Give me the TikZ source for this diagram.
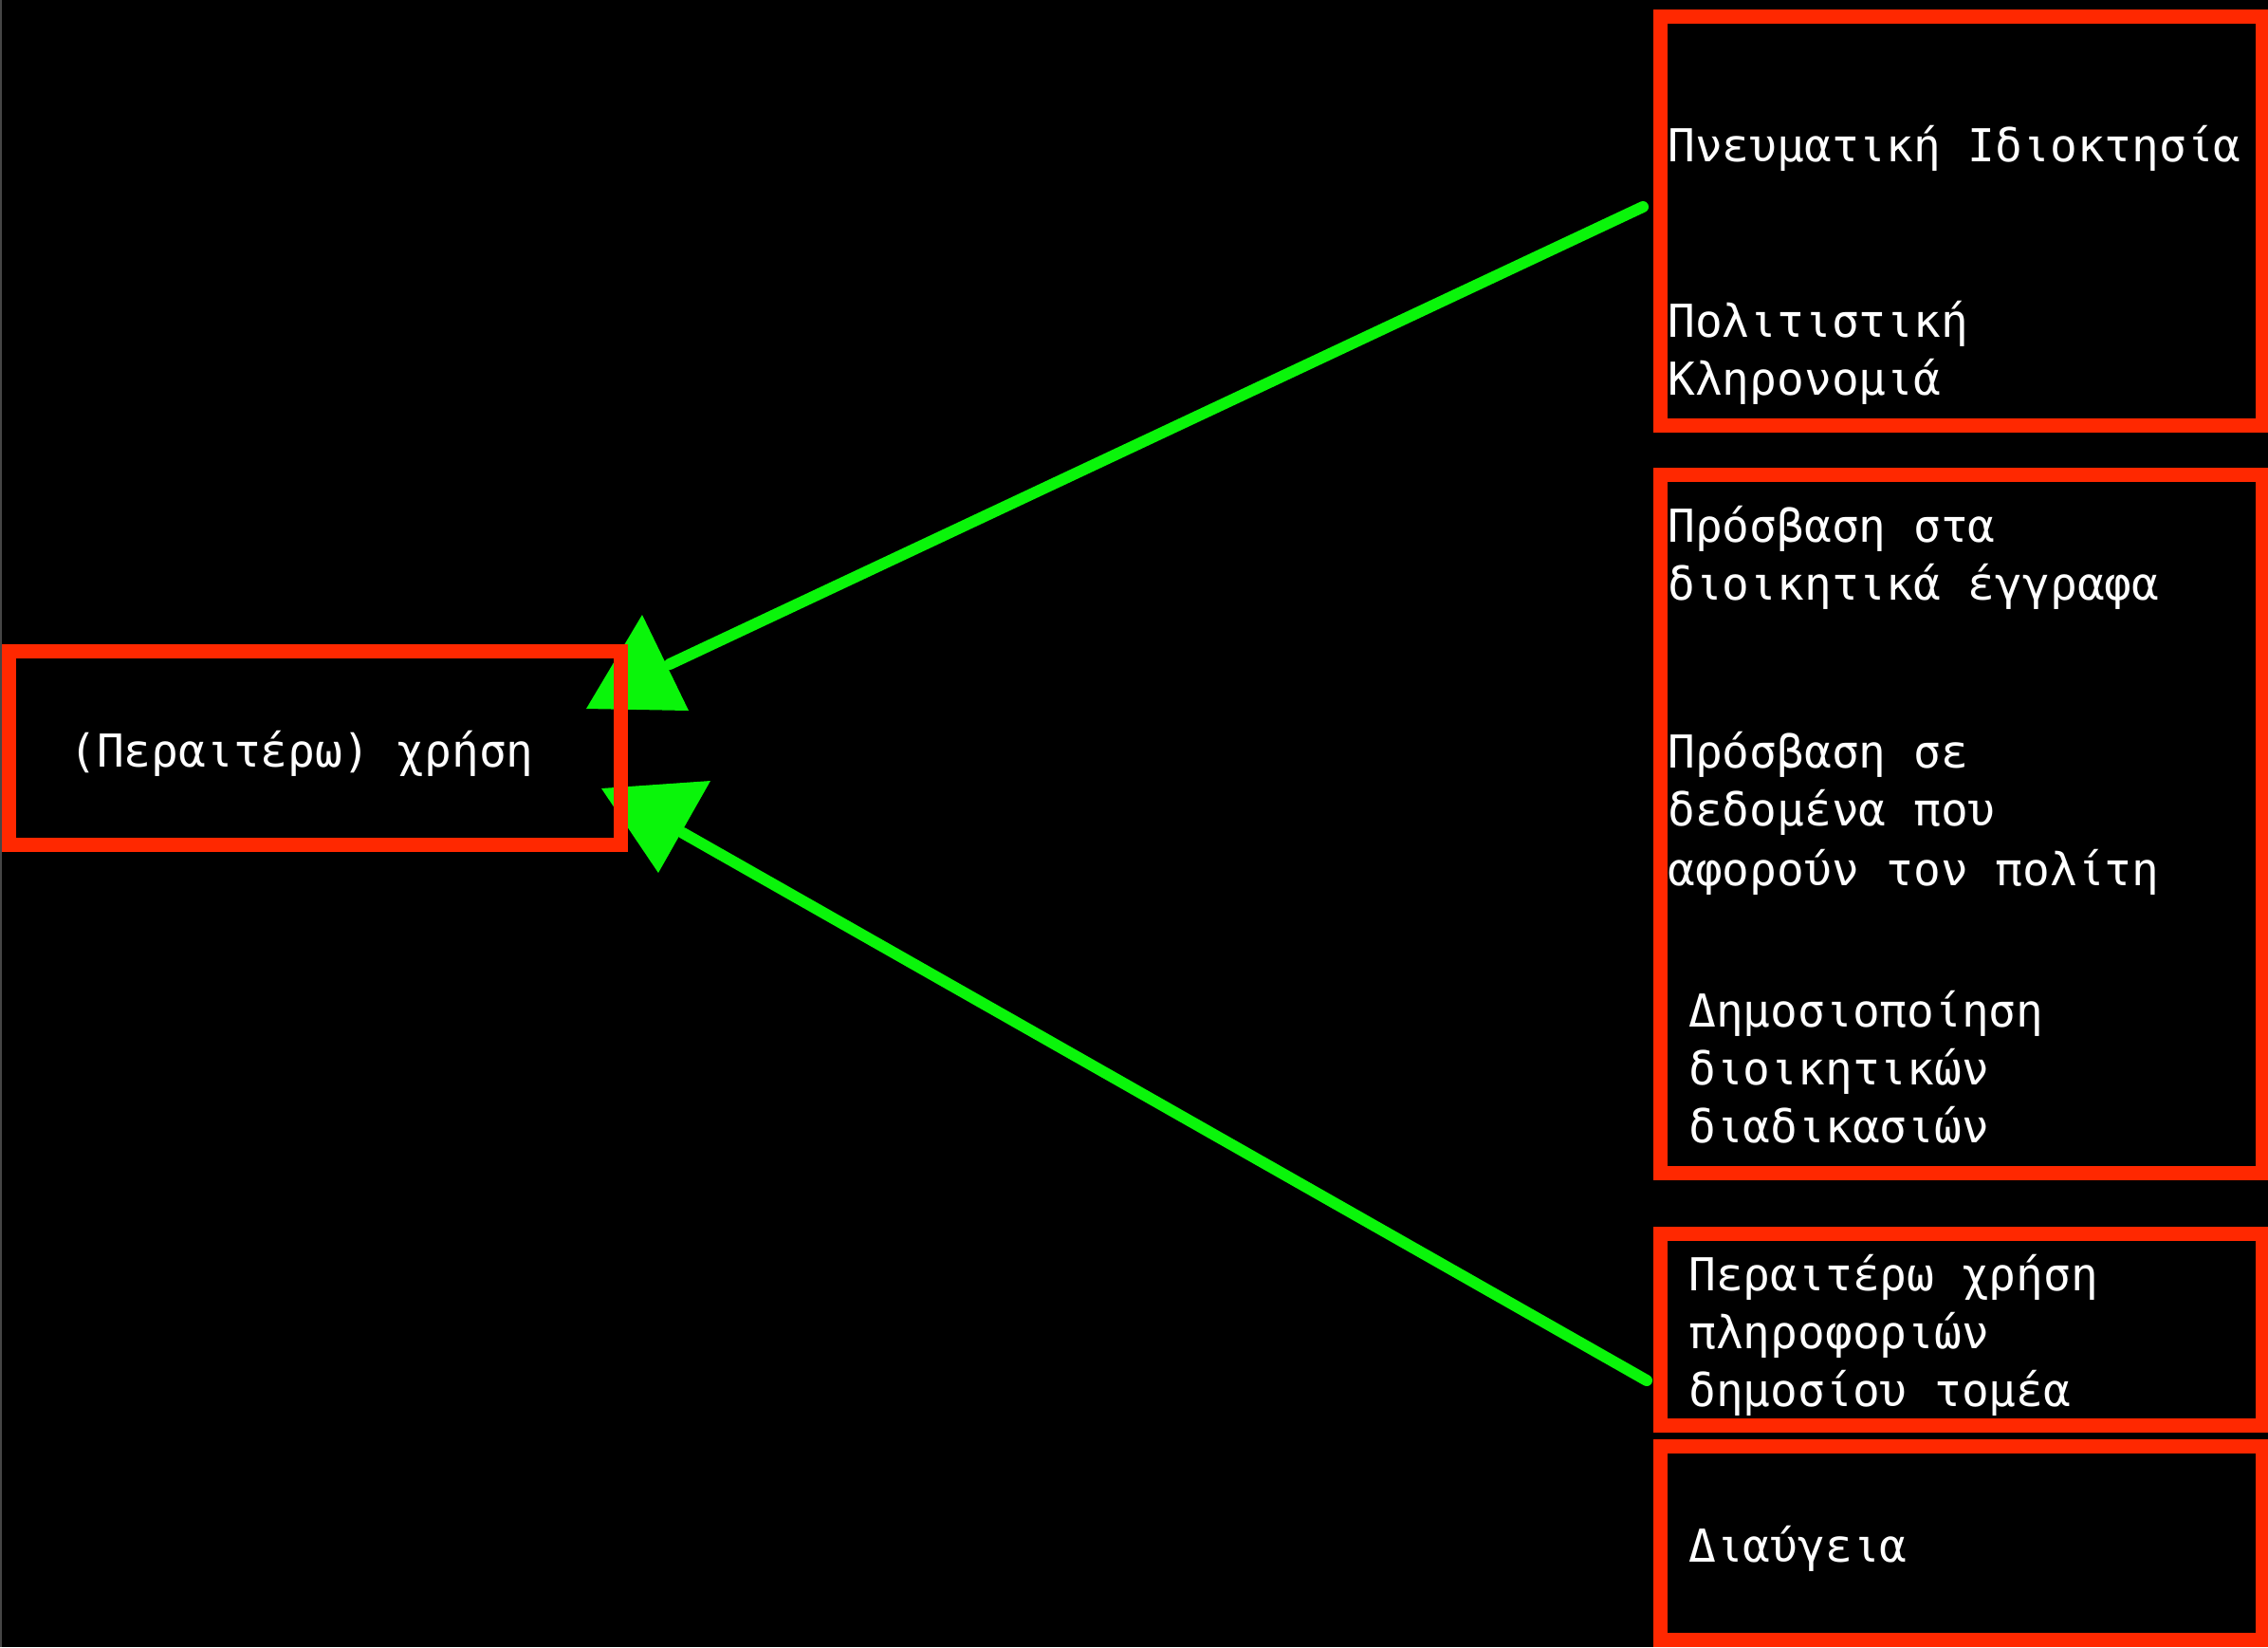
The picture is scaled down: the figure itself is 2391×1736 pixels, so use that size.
\documentclass[tikz,border=0pt]{standalone}
\usepackage{fontspec}
\setmonofont{DejaVu Sans Mono}
\definecolor{boardred}{RGB}{255,40,0}
\definecolor{linkgreen}{RGB}{10,245,10}
\definecolor{edgegray}{RGB}{70,70,70}
\tikzset{
  board/.style={draw=boardred,line width=7.5pt,inner sep=0pt},
  entry/.style={anchor=base west,inner sep=0pt,text=white,
    font=\ttfamily\fontsize{23.9}{30}\selectfont},
  link/.style={draw=linkgreen,line width=6pt,line cap=round},
  tip/.style={fill=linkgreen}
}

\begin{document}
\begin{tikzpicture}[x=0.5pt,y=-0.5pt]
  \fill[black] (0,0) rectangle (2391,1736);
  \useasboundingbox (0,0) rectangle (2391,1736);
  \draw[edgegray,line width=1pt] (1,0) -- (1,1736);

  % connectors first, boxes drawn over them
  \coordinate (ipr-out) at (1732,218);
  \coordinate (psi-out) at (1736,1455);
  \coordinate (use-in-a) at (706,700);
  \coordinate (use-in-b) at (720,878);
  \draw[link] (ipr-out) -- (use-in-a);
  \draw[link] (psi-out) -- (use-in-b);
  \fill[tip,shift={(use-in-a)}] (-29,-52) -- (-88,47) -- (20,49) -- cycle;
  \fill[tip,shift={(use-in-b)}] (-86,-47) -- (29,-55) -- (-26,42) -- cycle;

  % boxes
  \node[board,minimum width=322.5pt,minimum height=102pt] (use) at (332,788) {};
  \node[board,minimum width=317.5pt,minimum height=215.5pt] (ipr) at (2067.5,232.5) {};
  \node[board,minimum width=317.5pt,minimum height=368pt] (access) at (2067.5,868) {};
  \node[board,minimum width=317.5pt,minimum height=101pt] (psi) at (2067.5,1401) {};
  \node[board,minimum width=317.5pt,minimum height=102pt] (diavgeia) at (2067.5,1626) {};

  % texts
  \node[entry] (use-t) at (73,808) {(Περαιτέρω) χρήση};
  \node[entry] (ipr-t1) at (1758,170) {Πνευματική Ιδιοκτησία};
  \node[entry] (ipr-t2) at (1758,355) {Πολιτιστική};
  \node[entry] (ipr-t3) at (1758,416) {Κληρονομιά};
  \node[entry] (access-t1) at (1758,571) {Πρόσβαση στα};
  \node[entry] (access-t2) at (1758,632) {διοικητικά έγγραφα};
  \node[entry] (access-t3) at (1758,809) {Πρόσβαση σε};
  \node[entry] (access-t4) at (1758,870) {δεδομένα που};
  \node[entry] (access-t5) at (1758,933) {αφορούν τον πολίτη};
  \node[entry] (access-t6) at (1780,1082) {Δημοσιοποίηση};
  \node[entry] (access-t7) at (1780,1143) {διοικητικών};
  \node[entry] (access-t8) at (1780,1204) {διαδικασιών};
  \node[entry] (psi-t1) at (1780,1360) {Περαιτέρω χρήση};
  \node[entry] (psi-t2) at (1780,1421) {πληροφοριών};
  \node[entry] (psi-t3) at (1780,1482) {δημοσίου τομέα};
  \node[entry] (diavgeia-t) at (1780,1646) {Διαύγεια};
\end{tikzpicture}
\end{document}
